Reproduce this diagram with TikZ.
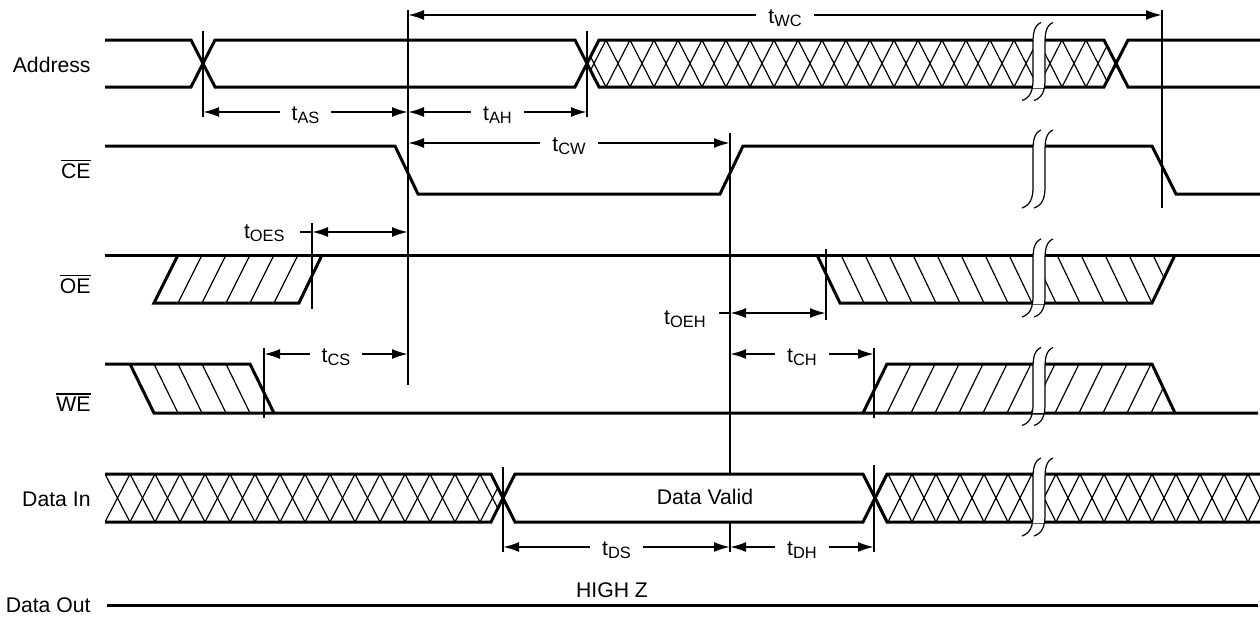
\documentclass[tikz,border=0pt]{standalone}
\usepackage{fontspec}
\setmainfont{Liberation Sans}
\usetikzlibrary{arrows.meta}
\newcommand\tsub[2]{#1\raisebox{-1.5pt}{\fontsize{8.2}{9}\selectfont #2}}
\newcommand\ovl[1]{\vbox{\hrule height 0.9pt\kern 0.9pt\hbox{#1}}}
\newcommand\brkmark[2]{%
  \fill[white] (#1,{#2-26}) rectangle ({#1+12},{#2+26});
  \foreach \dx in {0,12}{%
    \draw[brk] ({#1+\dx+8},{#2-39}) .. controls ({#1+\dx+1},{#2-36}) and ({#1+\dx},{#2-28}) .. ({#1+\dx},{#2-18})
      -- ({#1+\dx},{#2+18}) .. controls ({#1+\dx},{#2+28}) and ({#1+\dx-2},{#2+36}) .. ({#1+\dx-11},{#2+39});
  }%
}
\begin{document}
\begin{tikzpicture}[x=0.5pt,y=-0.5pt,
  sig/.style={line width=1.5pt},
  hatch/.style={line width=0.6pt},
  brk/.style={line width=0.6pt},
  vline/.style={line width=1pt},
  dim/.style={line width=1pt,{Latex[length=8pt,width=5pt]}-{Latex[length=8pt,width=5pt]}},
  lbl/.style={font=\fontsize{10.6}{12}\selectfont, inner sep=0pt},
  tl/.style={lbl, fill=white, inner xsep=6pt, inner ysep=1pt, anchor=base, yshift=-4.25pt}
]
\useasboundingbox (0,0) rectangle (1260,617);

% ---------- hatching ----------
% Address
\begin{scope}
\clip (587,63.5)--(599,40)--(1104,40)--(1116,63.5)--(1104,87)--(599,87)--cycle;
\foreach \k in {0,...,23}{
  \draw[hatch] ({582+24*\k},40)--({606+24*\k},87);
  \draw[hatch] ({582+24*\k},87)--({606+24*\k},40);}
\end{scope}
% OE left
\begin{scope}
\clip (154,303)--(178,255)--(322,255)--(299,303)--cycle;
\foreach \k in {1,...,6}{\draw[hatch] ({154+24*\k},303)--({178+24*\k},255);}
\end{scope}
% OE right
\begin{scope}
\clip (817,255)--(840,303)--(1152,303)--(1175,255)--cycle;
\foreach \k in {1,...,15}{\draw[hatch] ({817+24*\k},255)--({840+24*\k},303);}
\end{scope}
% WE left
\begin{scope}
\clip (130,364)--(250,364)--(274,413)--(154,413)--cycle;
\foreach \k in {1,...,4}{\draw[hatch] ({130+24*\k},364)--({154+24*\k},413);}
\end{scope}
% WE right
\begin{scope}
\clip (863,413)--(887,364)--(1152,364)--(1175,413)--cycle;
\foreach \k in {1,...,13}{\draw[hatch] ({863+24*\k},413)--({887+24*\k},364);}
\end{scope}
% Data In left
\begin{scope}
\clip (105,474)--(491,474)--(503,498)--(491,522)--(105,522)--cycle;
\foreach \k in {0,...,16}{
  \draw[hatch] ({105+25*\k},474)--({130+25*\k},522);
  \draw[hatch] ({105+25*\k},522)--({130+25*\k},474);}
\end{scope}
% Data In right
\begin{scope}
\clip (875,498)--(887,474)--(1260,474)--(1260,522)--(887,522)--cycle;
\foreach \k in {0,...,17}{
  \draw[hatch] ({864+24*\k},474)--({888+24*\k},522);
  \draw[hatch] ({864+24*\k},522)--({888+24*\k},474);}
\end{scope}

% ---------- signals ----------
% Address
\draw[sig] (105,40)--(191,40)--(215,87)--(575,87)--(599,40)--(1104,40)--(1128,87)--(1260,87);
\draw[sig] (105,87)--(191,87)--(215,40)--(575,40)--(599,87)--(1104,87)--(1128,40)--(1260,40);
% CE
\draw[sig] (105,146)--(395,146)--(418,194)--(720,194)--(743,146)--(1152,146)--(1176,194)--(1260,194);
% OE
\draw[sig] (105,255)--(1260,255);
\draw[sig] (178,255)--(154,303)--(299,303)--(322,255);
\draw[sig] (817,255)--(840,303)--(1152,303)--(1175,255);
% WE
\draw[sig] (105,364)--(250,364)--(274,413);
\draw[sig] (130,364)--(154,413)--(1258,413);
\draw[sig] (863,413)--(887,364)--(1152,364)--(1175,413);
% Data In
\draw[sig] (105,474)--(491,474)--(515,522)--(863,522)--(887,474)--(1260,474);
\draw[sig] (105,522)--(491,522)--(515,474)--(863,474)--(887,522)--(1260,522);
% Data Out
\draw[sig] (107,605)--(1258,605);

% ---------- breaks ----------
\brkmark{1033}{61.5}
\brkmark{1033}{169}
\brkmark{1033}{278}
\brkmark{1033}{386.5}
\brkmark{1033}{497}

% ---------- marker lines ----------
\coordinate (a1) at (203,31);  \coordinate (a2) at (203,117);
\coordinate (b1) at (408,10);  \coordinate (b2) at (408,385);
\coordinate (c1) at (587,31);  \coordinate (c2) at (587,117);
\coordinate (d1) at (1162,10); \coordinate (d2) at (1162,208);
\coordinate (e1) at (730,133); \coordinate (e2) at (730,474);
\coordinate (e3) at (730,522); \coordinate (e4) at (730,552);
\coordinate (f1) at (312,223); \coordinate (f2) at (312,309);
\coordinate (g1) at (826,249); \coordinate (g2) at (826,320);
\coordinate (h1) at (264,348); \coordinate (h2) at (264,418);
\coordinate (i1) at (874,348); \coordinate (i2) at (874,418);
\coordinate (i3) at (874,465); \coordinate (i4) at (874,552);
\coordinate (j1) at (503,467); \coordinate (j2) at (503,552);
\foreach \p/\q in {a1/a2,b1/b2,c1/c2,d1/d2,e1/e2,e3/e4,f1/f2,g1/g2,h1/h2,i1/i2,i3/i4,j1/j2}
  \draw[vline] (\p)--(\q);

% ---------- dimensions ----------
\coordinate (wcL) at (408,15);  \coordinate (wcR) at (1162,15);
\coordinate (asL) at (203,112); \coordinate (asR) at (408,112);
\coordinate (ahR) at (587,112);
\coordinate (cwL) at (408,143); \coordinate (cwR) at (730,143);
\coordinate (oesS) at (300,232); \coordinate (oesL) at (312,232); \coordinate (oesR) at (408,232);
\coordinate (oehS) at (719,313); \coordinate (oehL) at (730,313); \coordinate (oehR) at (826,313);
\coordinate (csL) at (264,354); \coordinate (csR) at (408,354);
\coordinate (chL) at (730,354); \coordinate (chR) at (874,354);
\coordinate (dsL) at (503,547); \coordinate (dsR) at (730,547);
\coordinate (dhR) at (874,547);

\draw[dim] (wcL)--(wcR) node[tl,midway] (lwc) {\tsub{t}{WC}};
\draw[dim] (asL)--(asR) node[tl,midway] (las) {\tsub{t}{AS}};
\draw[dim] (asR)--(ahR) node[tl,midway] (lah) {\tsub{t}{AH}};
\draw[dim] (cwL)--(cwR) node[tl,midway] (lcw) {\tsub{t}{CW}};
\draw[vline] (oesS)--(oesL);
\draw[dim] (oesL)--(oesR);
\node[lbl,anchor=base east] (loes) at (285,238) {\tsub{t}{OES}};
\draw[vline] (oehS)--(oehL);
\draw[dim] (oehL)--(oehR);
\node[lbl,anchor=base east] (loeh) at (706,324) {\tsub{t}{OEH}};
\draw[dim] (csL)--(csR) node[tl,midway] (lcs) {\tsub{t}{CS}};
\draw[dim] (chL)--(chR) node[tl,midway] (lch) {\tsub{t}{CH}};
\draw[dim] (dsL)--(dsR) node[tl,midway] (lds) {\tsub{t}{DS}};
\draw[dim] (dsR)--(dhR) node[tl,midway] (ldh) {\tsub{t}{DH}};

% ---------- labels ----------
\node[lbl,anchor=base east] (nAddr) at (91,72) {Address};
\node[lbl,anchor=base east] (nCE) at (91,178) {\ovl{CE}};
\node[lbl,anchor=base east] (nOE) at (91,293) {\ovl{OE}};
\node[lbl,anchor=base east] (nWE) at (91,411) {\ovl{WE}};
\node[lbl,anchor=base east] (nDin) at (91,506) {Data In};
\node[lbl,anchor=base east] (nDout) at (91,612) {Data Out};
\node[lbl,anchor=base] (nValid) at (705,504) {Data Valid};
\node[lbl,anchor=base] (nHZ) at (612,597) {HIGH Z};
\end{tikzpicture}
\end{document}
